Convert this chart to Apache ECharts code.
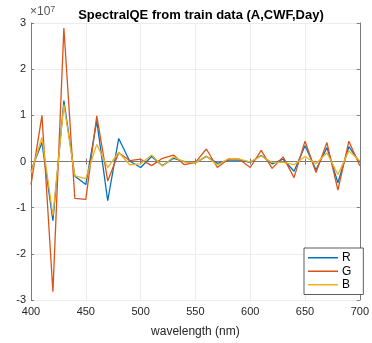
<!DOCTYPE html>
<html><head><meta charset="utf-8">
<script src="https://cdn.jsdelivr.net/npm/echarts@6/dist/echarts.min.js"></script>
<style>html,body{margin:0;padding:0;background:#fff}#c{width:372px;height:343px}</style>
</head><body><div id="c"></div>
<script>
// wavelengths (nm)
const wavelengths = [400,410,420,430,440,450,460,470,480,490,500,510,520,530,540,550,560,570,580,590,600,610,620,630,640,650,660,670,680,690,700];
// values in units of 1e7
const R = [-0.20,0.41,-1.28,1.32,-0.32,-0.50,0.88,-0.85,0.50,0.01,-0.13,0.11,-0.09,0.07,0.00,-0.03,0.11,-0.04,0.03,0.03,-0.02,0.13,-0.05,0.05,-0.21,0.34,-0.18,0.30,-0.46,0.32,-0.02];
const G = [-0.50,1.00,-2.82,2.89,-0.80,-0.82,0.99,-0.42,0.19,0.02,0.05,-0.09,0.07,0.14,-0.07,-0.02,0.27,-0.13,0.05,0.05,-0.13,0.24,-0.15,0.10,-0.35,0.44,-0.24,0.41,-0.62,0.44,-0.09];
const B = [-0.25,0.52,-1.17,1.23,-0.31,-0.37,0.37,-0.13,0.20,-0.07,-0.05,0.14,-0.10,0.10,-0.01,-0.03,0.12,-0.08,0.06,0.05,-0.01,0.12,-0.02,-0.02,-0.07,0.11,-0.05,0.19,-0.28,0.23,0.01];
const xTicks = [400,450,500,550,600,650,700];
const yTicks = [-3,-2,-1,0,1,2,3];

const font = 'Liberation Sans, Arial, Helvetica, sans-serif';
const axisCol = '#7a7a7a';
const txtCol = '#262626';
const chart = echarts.init(document.getElementById('c'), null, {renderer:'canvas'});
const mk = (a) => wavelengths.map((w,i)=>[w,a[i]]);
const grid = {left:31, right:10, top:23, bottom:42, containLabel:false};
chart.setOption({
  animation:false,
  backgroundColor:'#fff',
  title:{text:'SpectralQE from train data (A,CWF,Day)', left:196, top:4, textAlign:'center',
    textStyle:{fontFamily:font, fontSize:13, fontWeight:'bold', color:'#000'}},
  graphic:[{type:'text', left:30, top:5, style:{text:'×10{s|7}', fontSize:12, fontFamily:font, fill:'#555',
    rich:{s:{fontSize:9, verticalAlign:'top', fill:'#555', fontFamily:font, padding:[0,0,4,0]}}}}],
  grid:grid,
  legend:{orient:'vertical', left:304, top:248, data:['R','G','B'], icon:'rect', itemWidth:30, itemHeight:1.5, itemGap:0,
    padding:[3,12,3,4], backgroundColor:'#fff', borderColor:'#333', borderWidth:0.8,
    textStyle:{fontFamily:font, fontSize:12, color:'#000', lineHeight:13.5, padding:[0,0,0,-1]}},
  xAxis:[
    {type:'value', min:400, max:700, interval:50, position:'bottom',
     axisLine:{lineStyle:{color:axisCol, width:1}}, axisTick:{inside:true, length:3, lineStyle:{color:axisCol}},
     axisLabel:{color:txtCol, fontFamily:font, fontSize:11, margin:6},
     splitLine:{show:true, lineStyle:{color:'#ececec', width:1}},
     name:'wavelength (nm)', nameLocation:'middle', nameGap:26, nameTextStyle:{fontFamily:font, fontSize:12, color:txtCol}},
    {type:'value', min:400, max:700, interval:50, position:'top',
     axisLine:{show:true, lineStyle:{color:axisCol}}, axisTick:{inside:true, length:3, lineStyle:{color:axisCol}},
     axisLabel:{show:false}, splitLine:{show:false}}
  ],
  yAxis:[
    {type:'value', min:-3, max:3, interval:1, position:'left',
     axisLine:{show:true, lineStyle:{color:axisCol}}, axisTick:{show:true, inside:true, length:3, lineStyle:{color:axisCol}},
     axisLabel:{color:txtCol, fontFamily:font, fontSize:11, margin:5, formatter:(v)=>String(v)},
     splitLine:{show:true, lineStyle:{color:'#ececec', width:1}}},
    {type:'value', min:-3, max:3, interval:1, position:'right',
     axisLine:{show:true, lineStyle:{color:axisCol}}, axisTick:{show:true, inside:true, length:3, lineStyle:{color:axisCol}},
     axisLabel:{show:false}, splitLine:{show:false}}
  ],
  series:[
    {name:'R', type:'line', data:mk(R), symbol:'none', lineStyle:{color:'#0072BD', width:1.3}, itemStyle:{color:'#0072BD'}, z:3},
    {name:'G', type:'line', data:mk(G), symbol:'none', lineStyle:{color:'#D95319', width:1.3}, itemStyle:{color:'#D95319'}, z:4},
    {name:'B', type:'line', data:mk(B), symbol:'none', lineStyle:{color:'#EDB120', width:1.3}, itemStyle:{color:'#EDB120'}, z:5}
  ]
});
</script></body></html>
